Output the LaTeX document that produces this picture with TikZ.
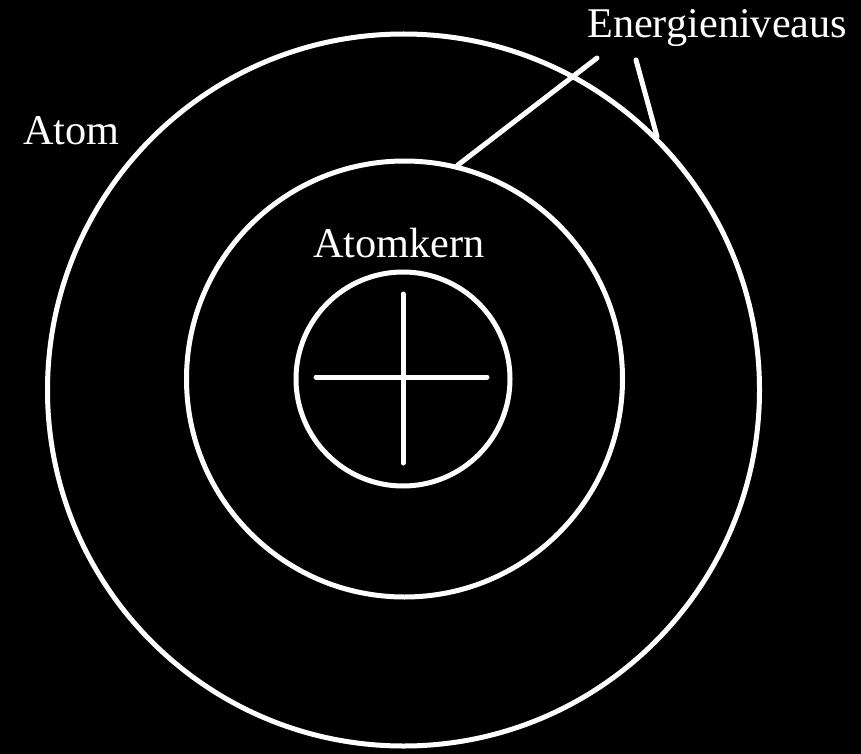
\documentclass[tikz,border=0pt]{standalone}
\usepackage{fontspec}
\setmainfont{Liberation Serif}
\begin{document}
\begin{tikzpicture}[x=1pt,y=-1pt,
  ring/.style={circle,draw=white,line width=5pt,inner sep=0pt},
  wline/.style={draw=white,line width=5pt,line cap=round},
  lbl/.style={text=white,inner sep=0pt,anchor=base west,font=\fontsize{42.3}{50}\selectfont}]
\fill[black] (0,0) rectangle (861,754);
\useasboundingbox (0,0) rectangle (861,754);
\node[ring,minimum size=712pt] (outer) at (403.5,390) {};
\node[ring,minimum size=436pt] (mid) at (404.5,379) {};
\node[ring,minimum size=214pt] (inner) at (403,379) {};
\coordinate (hl) at (316,377);
\coordinate (hr) at (487,377);
\coordinate (vt) at (403,294);
\coordinate (vb) at (403,463);
\draw[wline] (hl) -- (hr);
\draw[wline] (vt) -- (vb);
\node[lbl] (energ) at (587,38) {Energieniveaus};
\node[lbl] (atom) at (23,145) {Atom};
\node[lbl] (kern) at (313,257) {Atomkern};
\coordinate (e1) at (597,58);
\coordinate (e2) at (636,60);
\draw[wline] (e1) -- (mid.76.6);
\draw[wline] (e2) -- (outer.45.7);
\end{tikzpicture}
\end{document}
